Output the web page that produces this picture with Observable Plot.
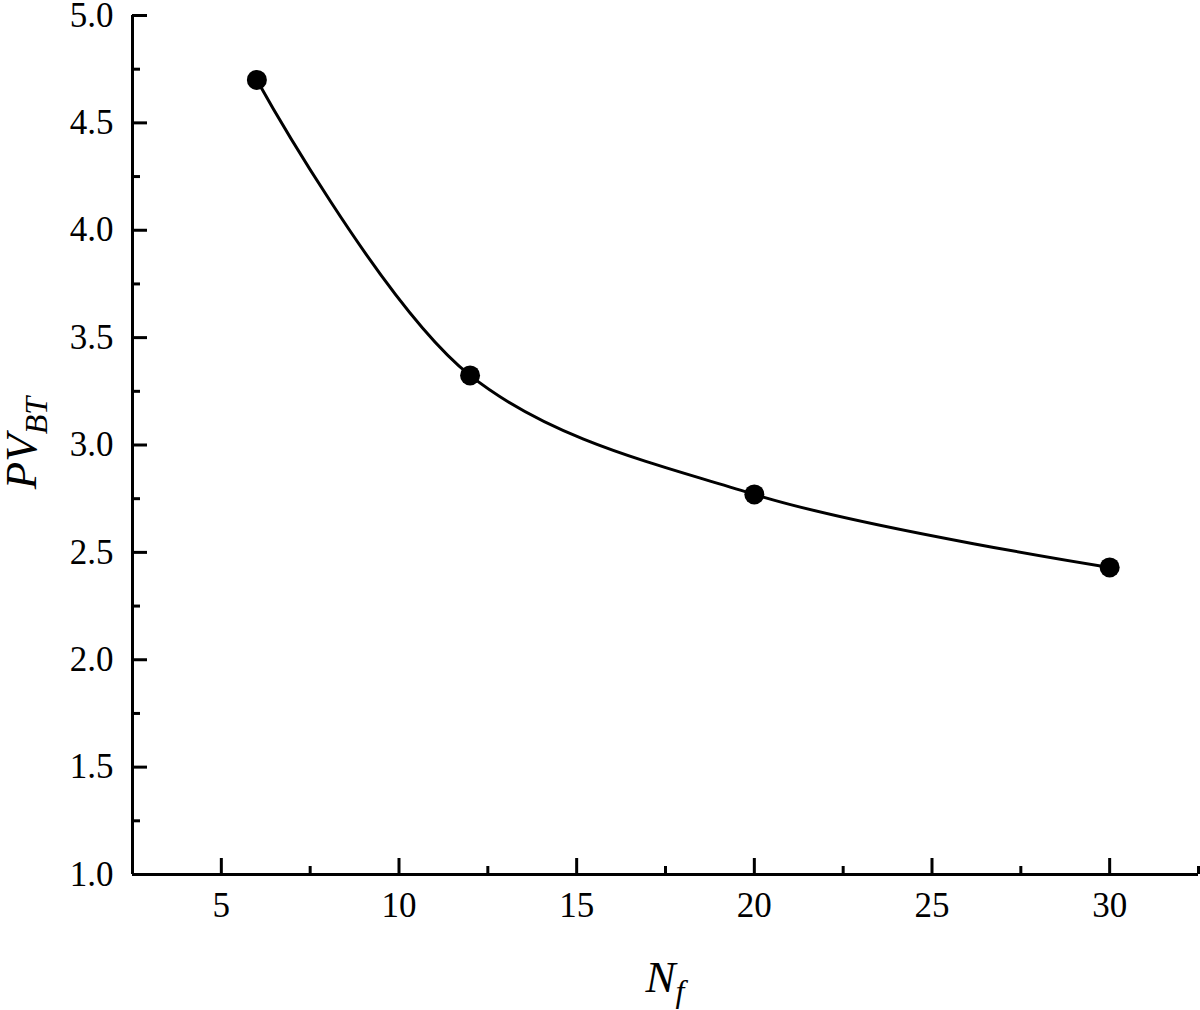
<!DOCTYPE html>
<html>
<head>
<meta charset="utf-8">
<script src="https://cdn.jsdelivr.net/npm/d3@7"></script>
<script src="https://cdn.jsdelivr.net/npm/@observablehq/plot@0.6"></script>
<style>
  html, body { margin: 0; padding: 0; background: #fff; }
  svg { display: block; }
</style>
</head>
<body>
<div id="chart"></div>
<script>
const nf = [6, 12, 20, 30];
const pvbt = [4.70, 3.324, 2.77, 2.43];
const xMajor = [5, 10, 15, 20, 25, 30];
const xMinor = [2.5, 7.5, 12.5, 17.5, 22.5, 27.5, 32.5];
const yMajor = [1.0, 1.5, 2.0, 2.5, 3.0, 3.5, 4.0, 4.5, 5.0];
const yMinor = [1.25, 1.75, 2.25, 2.75, 3.25, 3.75, 4.25, 4.75];

const data = nf.map((x, i) => ({x, y: pvbt[i]}));
const font = "'Liberation Serif', 'Times New Roman', serif";

const chart = Plot.plot({
  width: 1200,
  height: 1010,
  marginLeft: 132,
  marginRight: 2,
  marginTop: 15,
  marginBottom: 136,
  style: {fontFamily: font, fontSize: "35px", color: "#000", background: "#fff"},
  x: {domain: [2.5, 32.5]},
  y: {domain: [1, 5]},
  marks: [
    Plot.axisX({ticks: xMajor, tickSize: -16, strokeWidth: 3, tickFormat: () => "", label: null}),
    Plot.axisX({ticks: xMinor, tickSize: -8, strokeWidth: 3, tickFormat: () => "", label: null}),
    Plot.axisX({ticks: xMajor, tickSize: 0, tickPadding: 18, label: null}),
    Plot.axisY({ticks: yMajor, tickSize: -15, strokeWidth: 3, tickFormat: () => "", label: null}),
    Plot.axisY({ticks: yMinor, tickSize: -8, strokeWidth: 3, tickFormat: () => "", label: null}),
    Plot.axisY({ticks: yMajor, tickSize: 0, tickPadding: 19, label: null, tickFormat: d3.format(".1f")}),
    Plot.ruleY([1], {strokeWidth: 3}),
    Plot.ruleX([2.5], {strokeWidth: 3}),
    Plot.line(data, {x: "x", y: "y", curve: "catmull-rom", stroke: "#000", strokeWidth: 3}),
    Plot.dot(data, {x: "x", y: "y", r: 10, fill: "#000", stroke: "none"})
  ]
});

document.getElementById("chart").appendChild(chart);

const svg = d3.select(chart);
svg.selectAll("text")
  .style("font-family", font)
  .style("font-size", "35px")
  .style("font-variant", "normal");

// x-axis label N_f
const xl = svg.append("text")
  .attr("x", 665).attr("y", 992)
  .attr("text-anchor", "middle")
  .style("font-family", font)
  .style("font-style", "italic")
  .style("font-size", "45px")
  .attr("fill", "#000");
xl.append("tspan").text("N");
xl.append("tspan").style("font-size", "32px").attr("dy", 10).text("f");

// y-axis label PV_BT
const yl = svg.append("text")
  .attr("transform", "translate(36,443) rotate(-90)")
  .attr("text-anchor", "middle")
  .style("font-family", font)
  .style("font-style", "italic")
  .style("font-size", "45px")
  .attr("fill", "#000");
yl.append("tspan").text("PV");
yl.append("tspan").style("font-size", "32px").attr("dy", 11).text("BT");
</script>
</body>
</html>
